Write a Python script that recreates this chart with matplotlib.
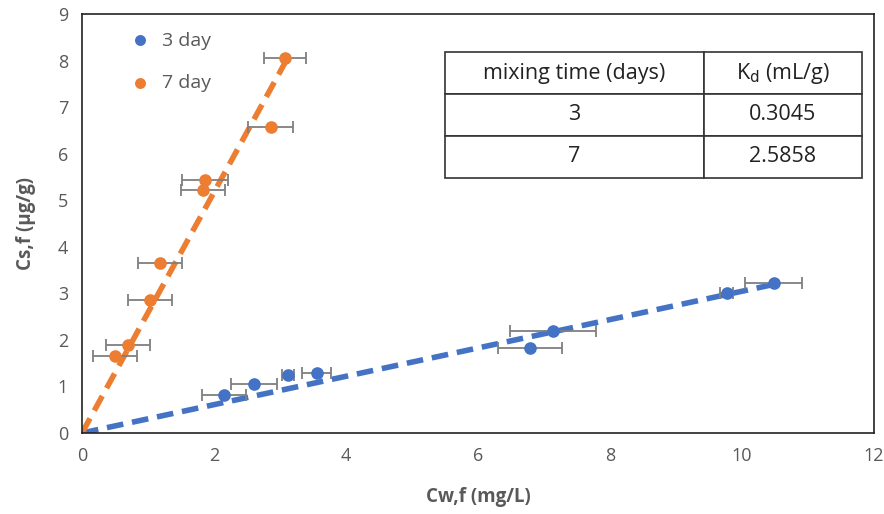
import matplotlib
matplotlib.use("Agg")
import matplotlib.pyplot as plt
import numpy as np

plt.rcParams["font.family"] = ["Open Sans", "DejaVu Sans"]

# 3 day data
x3 = [2.15, 2.61, 3.12, 3.56, 6.79, 7.14, 9.77, 10.48]
y3 = [0.81, 1.05, 1.24, 1.29, 1.82, 2.19, 3.00, 3.22]
xerr3 = [0.33, 0.35, 0.09, 0.22, 0.48, 0.65, 0.10, 0.43]

# 7 day data
x7 = [0.50, 0.70, 1.03, 1.18, 1.83, 1.86, 2.86, 3.08]
y7 = [1.65, 1.89, 2.85, 3.65, 5.21, 5.43, 6.58, 8.05]
xerr7 = [0.33, 0.33, 0.33, 0.33, 0.33, 0.35, 0.34, 0.32]

kd_days = ["3", "7"]
kd_values = ["0.3045", "2.5858"]
kd3 = 0.3045
kd7 = 2.5858

blue = "#4472C4"
orange = "#ED7D31"
grey = "#595959"

fig = plt.figure(figsize=(8.84, 5.14), dpi=100)
ax = fig.add_axes([82 / 884, 81 / 514, 792 / 884, 419 / 514])

# fitted lines through origin
xf3 = np.array([0, max(x3)])
xf7 = np.array([0, max(x7)])
ax.plot(xf3, kd3 * xf3, color=blue, lw=4, ls=(0, (3, 1.6)), zorder=2)
ax.plot(xf7, kd7 * xf7, color=orange, lw=4, ls=(0, (3, 1.6)), zorder=2)

ax.errorbar(x3, y3, xerr=xerr3, fmt="none", ecolor="#7f7f7f", elinewidth=1.3,
            capsize=4, capthick=1.3, zorder=3)
ax.errorbar(x7, y7, xerr=xerr7, fmt="none", ecolor="#7f7f7f", elinewidth=1.3,
            capsize=4, capthick=1.3, zorder=3)
ax.scatter(x3, y3, s=65, color=blue, zorder=4, label="3 day")
ax.scatter(x7, y7, s=65, color=orange, zorder=4, label="7 day")

ax.set_xlim(0, 12)
ax.set_ylim(0, 9)
ax.set_xticks(range(0, 13, 2))
ax.set_yticks(range(0, 10))
ax.tick_params(length=0, labelsize=13, labelcolor=grey, pad=10)
for s in ax.spines.values():
    s.set_color("#222222")
    s.set_linewidth(1.2)

ax.set_xlabel("Cw,f (mg/L)", fontsize=13.5, fontweight="bold", color=grey, labelpad=16)
ax.set_ylabel("Cs,f (\u00b5g/g)", fontsize=13.5, fontweight="bold", color=grey, labelpad=16)

ax.legend(loc="upper left", bbox_to_anchor=(0.027, 1.0), frameon=False, fontsize=14,
          labelcolor=grey, handletextpad=0.1, labelspacing=1.25, markerscale=0.85)

table = ax.table(cellText=[[d, v] for d, v in zip(kd_days, kd_values)],
                 colLabels=["mixing time (days)", "K$_\\mathrm{d}$ (mL/g)"],
                 cellLoc="center", colWidths=[0.62, 0.38],
                 bbox=[0.458, 0.609, 0.527, 0.30], zorder=5)
table.auto_set_font_size(False)
for cell in table.get_celld().values():
    cell.set_fontsize(15.5)
    cell.set_edgecolor("#333333")
    cell.set_linewidth(1.2)
    cell.get_text().set_color("#222222")

fig.savefig("out.png", dpi=100)
